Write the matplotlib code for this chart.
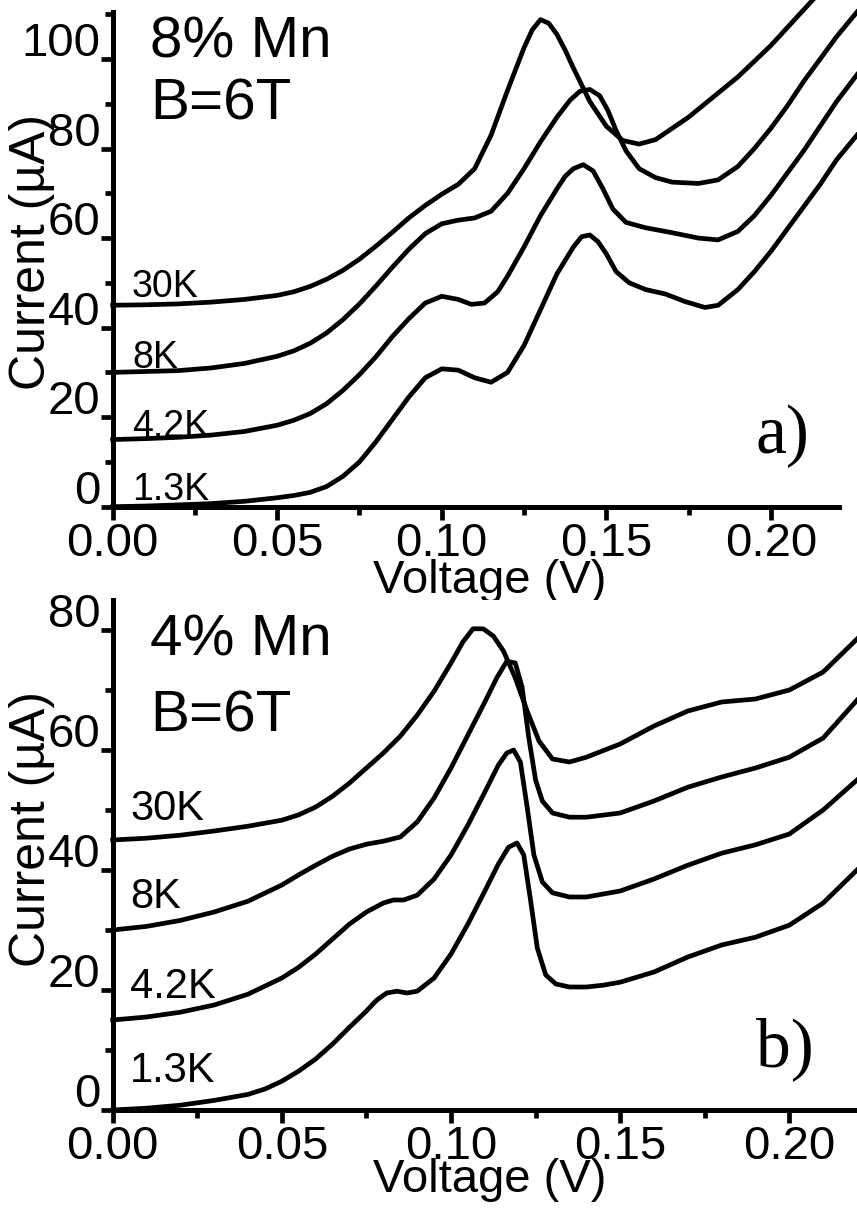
import matplotlib
matplotlib.use("Agg")
import matplotlib.pyplot as plt
import matplotlib.transforms as mtransforms
from matplotlib.ticker import MultipleLocator, FixedLocator

plt.rcParams['font.family'] = ['Liberation Sans', 'DejaVu Sans']

# ---- panel a) 8% Mn, B=6T ----
v_a_13 = [0, .01, .02, .03, .04, .05, .055, .06, .065, .07, .075, .08, .085, .09, .095, .10, .105, .11, .115, .12,
          .125, .13, .135, .14, .1425, .145, .1475, .15, .153, .157, .162, .168, .174, .18, .184, .19, .195, .20,
          .205, .21, .215, .22, .2262]
i_a_13 = [0, 0.15, 0.4, 0.7, 1.2, 2.0, 2.5, 3.2, 4.5, 6.8, 10, 14.5, 19.5, 24.5, 28.8, 30.8, 30.5, 28.8, 27.8, 30,
          36, 44, 52, 58, 60.3, 60.7, 59.2, 56.5, 52.5, 50, 48.5, 47.5, 45.8, 44.5, 45, 48.5, 52.5, 57,
          62, 67, 72, 77.5, 83]

v_a_42 = [0, .01, .02, .03, .04, .05, .055, .06, .065, .07, .075, .08, .085, .09, .095, .10, .105, .109, .113, .117,
          .12, .125, .13, .135, .1375, .14, .143, .146, .149, .152, .156, .162, .17, .178, .184, .19, .195, .20,
          .205, .21, .215, .22, .2262]
i_a_42 = [15, 15.2, 15.5, 16, 16.8, 18.2, 19.3, 20.8, 23, 26, 29.5, 33.5, 38, 42, 45.5, 47, 46.3, 45.2, 45.5, 48,
          51.5, 58, 65, 71, 73.8, 75.5, 76.4, 75, 71, 66.5, 63.5, 62.3, 61.2, 60, 59.6, 61.5, 65, 69.5,
          74.5, 79.5, 85, 90.5, 96.5]

v_a_8 = [0, .01, .02, .03, .04, .05, .055, .06, .065, .07, .075, .08, .085, .09, .095, .10, .105, .11, .115, .12,
         .125, .13, .135, .139, .142, .145, .148, .1505, .153, .156, .16, .165, .17, .178, .184, .19, .195, .20,
         .205, .21, .215, .22, .2262]
i_a_8 = [30, 30.2, 30.4, 31, 32, 33.6, 34.8, 36.5, 38.8, 41.8, 45.3, 49.3, 53.5, 57.5, 61, 63.2, 64, 64.5, 66, 70,
         75.5, 81.5, 87, 90.8, 92.8, 93.2, 91.8, 88.5, 84, 79.5, 75.5, 73.5, 72.5, 72.2, 73, 76, 80, 84.5,
         89.5, 95, 100, 105, 110.5]

v_a_30 = [0, .01, .02, .03, .04, .05, .055, .06, .065, .07, .075, .08, .085, .09, .095, .10, .105, .11, .115, .12,
          .125, .1275, .13, .1325, .135, .1375, .14, .145, .15, .155, .16, .165, .17, .175, .18, .185, .19, .195,
          .20, .205, .21, .215]
i_a_30 = [45, 45.1, 45.3, 45.7, 46.3, 47.2, 48, 49.2, 50.8, 52.8, 55.3, 58.2, 61.3, 64.5, 67.3, 69.8, 72, 75.5, 83, 93,
          102.5, 106.5, 108.8, 108, 105.5, 102, 98, 90.5, 85, 81.8, 81, 82, 84.5, 87, 90, 93, 96, 99.5,
          103, 107, 111, 115]

# ---- panel b) 4% Mn, B=6T ----
v_b_13 = [0, .01, .02, .03, .04, .045, .05, .055, .06, .065, .07, .075, .078, .081, .084, .087, .09, .095, .10, .105,
          .11, .114, .117, .1195, .1215, .1235, .1255, .128, .131, .135, .14, .145, .15, .16, .17, .18, .19, .20,
          .21, .22]
i_b_13 = [0, 0.3, 0.8, 1.6, 2.6, 3.5, 4.8, 6.5, 8.5, 11, 13.8, 16.5, 18.3, 19.5, 19.8, 19.5, 19.8, 22, 26, 31,
          36.5, 41, 43.8, 44.5, 42.5, 35, 27, 22.5, 21, 20.5, 20.5, 20.8, 21.3, 23, 25.5, 27.5, 28.8, 30.8,
          34.5, 40]

v_b_42 = [0, .01, .02, .03, .04, .05, .055, .06, .065, .07, .075, .08, .083, .086, .09, .095, .10, .105, .11, .114,
          .1165, .1185, .1205, .1225, .1245, .127, .13, .135, .14, .15, .16, .17, .18, .19, .20, .21, .22]
i_b_42 = [15, 15.5, 16.3, 17.5, 19.3, 22, 23.8, 26, 28.5, 31, 33, 34.5, 35, 35, 35.8, 38.5, 42.5, 47.5, 53, 57.5,
          59.5, 60, 58, 50.5, 42.5, 38, 36.2, 35.5, 35.5, 36.5, 38.5, 40.8, 42.8, 44.2, 46, 50, 55]

v_b_8 = [0, .01, .02, .03, .04, .05, .055, .06, .065, .07, .075, .08, .085, .09, .095, .10, .105, .11, .1135, .1165,
         .119, .121, .123, .125, .127, .13, .135, .14, .15, .16, .17, .18, .19, .20, .21, .22]
i_b_8 = [30, 30.6, 31.6, 33, 34.8, 37.5, 39.2, 40.8, 42.3, 43.5, 44.3, 44.8, 45.5, 48, 52, 57, 62.5, 68, 72, 74.8,
         74.5, 70.5, 62, 55, 51.5, 49.5, 48.8, 48.8, 49.5, 51.5, 53.8, 55.5, 57, 58.8, 62, 68.3]

v_b_30 = [0, .01, .02, .03, .04, .05, .055, .06, .065, .07, .075, .08, .085, .09, .095, .10, .1035, .1065, .1095,
          .1125, .1155, .119, .1225, .126, .13, .135, .14, .15, .16, .17, .18, .19, .20, .21, .22]
i_b_30 = [45, 45.3, 45.8, 46.5, 47.3, 48.3, 49.2, 50.5, 52.3, 54.5, 57, 59.5, 62.3, 65.8, 69.8, 74.5, 78, 80.2,
          80.2, 79, 76.5, 72, 66.5, 61.5, 58.5, 58, 58.8, 61, 64, 66.5, 68, 68.5, 70, 73, 78.5]

temps = ["1.3K", "4.2K", "8K", "30K"]

W, H = 857, 1219
fig = plt.figure(figsize=(W / 100, H / 100), dpi=100)


def px(x, y):
    # pixel position -> figure fraction
    return x / W, 1 - y / H


def style_axes(ax, ymax, xlab_y, ylab_y, xmax_spine=None):
    for s in ['top', 'right']:
        ax.spines[s].set_visible(False)
    for s in ['left', 'bottom']:
        ax.spines[s].set_linewidth(3.6)
    if xmax_spine is not None:
        ax.spines['bottom'].set_bounds(0, xmax_spine)
    ax.set_ylim(0, ymax)
    ax.xaxis.set_major_locator(MultipleLocator(0.05))
    ax.xaxis.set_minor_locator(FixedLocator([0.025, 0.075, 0.125, 0.175]))
    ax.yaxis.set_major_locator(MultipleLocator(20))
    ax.yaxis.set_minor_locator(MultipleLocator(10))
    ax.xaxis.set_major_formatter(lambda v, p: f"{v:.2f}")
    ax.tick_params(which='major', direction='out', length=9, width=3.4, labelsize=34, pad=0)
    ax.tick_params(which='minor', direction='out', length=5.5, width=3.4)
    ax.tick_params(axis='x', which='major', pad=2)
    ax.set_xlabel("Voltage (V)", fontsize=34)
    ax.set_ylabel("Current (µA)", fontsize=36)
    ax.xaxis.set_label_coords(0.507, xlab_y)
    ax.yaxis.set_label_coords(-0.078, ylab_y)
    # tick labels sit above their ticks in the original
    off = mtransforms.ScaledTranslation(0, 0.2, fig.dpi_scale_trans)
    for lab in ax.get_yticklabels():
        lab.set_transform(lab.get_transform() + off)


# top panel
ax1 = fig.add_axes([112.7 / W, 1 - 506.7 / H, (W - 112.7) / W, (506.7 - 12) / H])
ax1.set_xlim(0, 0.2262)
for v, i in [(v_a_13, i_a_13), (v_a_42, i_a_42), (v_a_8, i_a_8), (v_a_30, i_a_30)]:
    ax1.plot(v, i, color='black', lw=3.4, solid_joinstyle='round', clip_on=False)
style_axes(ax1, 110.5, -0.105, 0.515, xmax_spine=0.2208)

# bottom panel
ax2 = fig.add_axes([112.7 / W, 1 - 1110 / H, (W - 112.7) / W, (1110 - 600) / H])
ax2.set_xlim(0, 0.22)
for v, i in [(v_b_13, i_b_13), (v_b_42, i_b_42), (v_b_8, i_b_8), (v_b_30, i_b_30)]:
    ax2.plot(v, i, color='black', lw=3.4, solid_joinstyle='round', clip_on=False)
style_axes(ax2, 85, -0.095, 0.55)

# annotations
fig.text(*px(150, 42), "8% Mn", fontsize=42, va='center', ha='left')
fig.text(*px(150, 104), "B=6T", fontsize=42, va='center', ha='left')
fig.text(*px(150, 640), "4% Mn", fontsize=42, va='center', ha='left')
fig.text(*px(150, 716), "B=6T", fontsize=42, va='center', ha='left')

for t, y in zip(temps, [500, 437, 368, 297]):
    fig.text(*px(132, y), t, fontsize=27, va='baseline', ha='left')
for t, y in zip(temps, [1082, 998, 908, 820]):
    fig.text(*px(130, y), t, fontsize=30, va='baseline', ha='left')

fig.text(*px(782, 436), "a)", fontsize=50, family='Liberation Serif', va='center', ha='center')
fig.text(*px(785, 1049), "b)", fontsize=50, family='Liberation Serif', va='center', ha='center')

fig.savefig("out.png", dpi=100)
